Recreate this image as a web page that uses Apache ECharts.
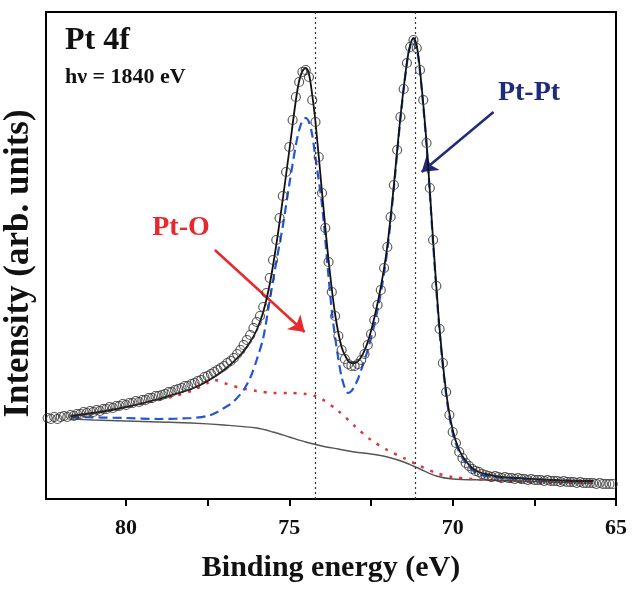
<!DOCTYPE html>
<html><head><meta charset="utf-8">
<script src="https://cdn.jsdelivr.net/npm/echarts@6/dist/echarts.min.js"></script>
<style>html,body{margin:0;padding:0;background:#fff}#c{width:640px;height:597px}</style>
</head><body><div id="c"></div>
<script>
// Measured XPS spectrum (open circles): binding energy (eV) and intensity (arb. units)
const scanBE = [82.4,82.3,82.2,82.1,82.0,81.9,81.8,81.7,81.6,81.5,81.4,81.3,81.2,81.1,81.0,80.9,80.8,80.7,80.6,80.5,
80.4,80.3,80.2,80.1,80.0,79.9,79.8,79.7,79.6,79.5,79.4,79.3,79.2,79.1,79.0,78.9,78.8,78.7,78.6,78.5,
78.4,78.3,78.2,78.1,78.0,77.9,77.8,77.7,77.6,77.5,77.4,77.3,77.2,77.1,77.0,76.9,76.8,76.7,76.6,76.5,
76.4,76.3,76.2,76.1,76.0,75.9,75.8,75.7,75.6,75.5,75.4,75.3,75.2,75.1,75.0,74.9,74.8,74.7,74.6,74.5,
74.4,74.3,74.2,74.1,74.0,73.9,73.8,73.7,73.6,73.5,73.4,73.3,73.2,73.1,73.0,72.9,72.8,72.7,72.6,72.5,
72.4,72.3,72.2,72.1,72.0,71.9,71.8,71.7,71.6,71.5,71.4,71.3,71.2,71.1,71.0,70.9,70.8,70.7,70.6,70.5,
70.4,70.3,70.2,70.1,70.0,69.9,69.8,69.7,69.6,69.5,69.4,69.3,69.2,69.1,69.0,68.9,68.8,68.7,68.6,68.5,
68.4,68.3,68.2,68.1,68.0,67.9,67.8,67.7,67.6,67.5,67.4,67.3,67.2,67.1,67.0,66.9,66.8,66.7,66.6,66.5,
66.4,66.3,66.2,66.1,66.0,65.9,65.8,65.7,65.6,65.5,65.4,65.3,65.2,65.1];
const scanIntensity = [81,80,82,80,82,83,82,84,83,85,85,87,86,88,87,89,88,90,90,92,
91,93,93,95,94,96,96,98,97,99,99,101,101,103,103,104,105,107,107,109,
110,111,113,113,115,116,118,119,122,123,125,127,129,131,133,136,138,141,145,149,
154,159,164,171,177,183,192,206,221,239,259,281,303,327,352,379,402,417,427,429,
422,399,377,342,306,271,237,207,183,163,149,140,135,133,133,135,139,145,154,165,
179,194,209,231,252,282,314,349,382,410,436,452,459,451,429,399,356,311,259,213,
170,136,107,84,67,56,47,41,36,33,30,28,27,25,24,23,22,23,22,21,
22,21,21,20,21,20,20,19,20,19,19,19,18,19,18,18,18,17,18,17,
17,17,16,17,16,16,16,16,15,16,15,15,15,15];

// Total fit envelope (black solid)
const fitBE = [81.7,81.0,80.0,79.0,78.5,78.0,77.5,77.0,76.5,76.2,76.0,75.8,75.6,75.4,75.2,75.0,74.8,74.7,74.6,74.5,
74.4,74.3,74.2,74.0,73.8,73.6,73.4,73.2,73.1,73.0,72.8,72.6,72.4,72.2,72.0,71.8,71.6,71.4,71.3,71.2,
71.1,71.0,70.8,70.6,70.4,70.2,70.0,69.8,69.6,69.4,69.2,69.0,68.5,68.0,67.0,66.0,65.7];
const fitTotal = [83,86,92,100,105,110,118,129,144,157,169,187,215,254,300,349,399,418,428,431,
425,404,377,307,239,185,152,138,136,136,142,157,181,212,253,314,382,437,454,461,
453,429,356,259,170,107,69,49,38,31,27,25,22,21,19,18,18];

// Pt-Pt component (blue dashed)
const blueBE = [81.7,80.0,79.0,78.0,77.5,77.2,77.0,76.8,76.6,76.4,76.2,76.0,75.8,75.6,75.4,75.2,75.0,74.8,74.7,74.6,
74.5,74.4,74.3,74.2,74.0,73.8,73.7,73.6,73.5,73.4,73.3,73.2,73.1,73.0,72.9,72.8,72.6,72.4,72.2,72.0,
71.8,71.6,71.4,71.3,71.2,71.1,71.0,70.8,70.6,70.4,70.2,70.0,69.8,69.6,69.4,69.2,69.0,68.5,68.0,67.0,66.0,65.7];
const bluePtPt = [82,81,80,81,83,87,91,95,101,109,121,139,161,199,237,273,315,354,369,378,
381,377,364,341,294,222,188,162,140,122,111,106,108,113,120,129,149,174,206,249,
311,380,436,453,459,451,427,354,256,167,104,66,47,36,29,25,23,21,20,19,18,18];

// Pt-O component (red dotted)
const redBE = [81.7,81.0,80.0,79.0,78.5,78.0,77.5,77.3,77.0,76.5,76.0,75.5,75.0,74.5,74.2,74.0,73.5,73.0,72.5,72.0,
71.5,71.0,70.5,70.0,69.0,68.0,67.0,66.0,65.7];
const redPtO = [83,86,92,99,103,108,116,119,116,111,108,106,106,105,103,100,88,73,59,49,
41,33,26,22,19,17,16,16,16];

// Background (grey solid)
const bgBE = [81.7,81.0,80.0,79.0,78.0,77.0,76.0,75.5,75.0,74.5,74.0,73.5,73.0,72.5,72.0,71.5,71.0,70.5,70.0,69.0,68.0,67.0,66.0,65.7];
const bgValues = [80,79,78,77,76,74,71,67,62,57,53,50,47,45,42,37,30,23,20,19,18,17,16,16];

const xTickLabels = [65,70,75,80];
const markerEnergies = [74.22, 71.16];
const ptOArrow = [[77.28,249],[74.53,167]];
const ptPtArrow = [[68.75,387],[70.95,327]];

const zip = (xs, ys) => xs.map((x, i) => [x, ys[i]]);
const FONT = '"Liberation Serif", "Times New Roman", serif';

const chart = echarts.init(document.getElementById('c'), null, {renderer: 'canvas'});
chart.setOption({
  animation: false,
  backgroundColor: '#fff',
  grid: {left: 46, right: 24, top: 12, bottom: 98, containLabel: false, outerBoundsMode: 'none',
    show: true, borderColor: '#000', borderWidth: 2, backgroundColor: 'transparent'},
  xAxis: {
    type: 'value', inverse: true, min: 65, max: 82.45, interval: 2.5,
    axisLine: {show: true, onZero: false, lineStyle: {color: '#000', width: 2}},
    axisTick: {show: true, length: 7, lineStyle: {color: '#000', width: 2}},
    axisLabel: {margin: 18, fontFamily: FONT, fontWeight: 'bold', fontSize: 22, color: '#111', showMaxLabel: false,
      formatter: v => xTickLabels.includes(v) ? String(v) : ''},
    splitLine: {show: false},
    name: 'Binding energy (eV)', nameLocation: 'middle', nameGap: 54,
    nameTextStyle: {fontFamily: FONT, fontWeight: 'bold', fontSize: 30, color: '#111'}
  },
  yAxis: {
    type: 'value', min: 0, max: 487,
    axisLine: {show: true, lineStyle: {color: '#000', width: 2}},
    axisTick: {show: false}, axisLabel: {show: false}, splitLine: {show: false},
    name: 'Intensity (arb. units)', nameLocation: 'middle', nameGap: 10, nameRotate: 90,
    nameTextStyle: {fontFamily: FONT, fontWeight: 'bold', fontSize: 35, color: '#111', padding: [0, 16, 0, 0]}
  },
  graphic: [
    {type: 'text', x: 65, y: 41, style: {text: 'Pt 4f', font: 'bold 32px ' + FONT, fill: '#111', verticalAlign: 'middle'}},
    {type: 'text', x: 65, y: 77, style: {text: 'h\u03bd = 1840 eV', font: 'bold 22px ' + FONT, fill: '#111', verticalAlign: 'middle'}},
    {type: 'text', x: 181, y: 228, style: {text: 'Pt-O', font: 'bold 28px ' + FONT, fill: '#e8282b', align: 'center', verticalAlign: 'middle'}},
    {type: 'text', x: 529, y: 93, style: {text: 'Pt-Pt', font: 'bold 28px ' + FONT, fill: '#1f2a7c', align: 'center', verticalAlign: 'middle'}}
  ],
  series: [
    {type: 'line', name: 'Background', data: zip(bgBE, bgValues), showSymbol: false, smooth: 0.3,
      lineStyle: {color: '#555', width: 1.4}, z: 2,
      markLine: {silent: true, symbol: ['none', 'none'], label: {show: false},
        lineStyle: {color: '#333', type: [2, 3], width: 1.2},
        data: markerEnergies.map(e => ({xAxis: e}))}},
    {type: 'line', name: 'Pt-O', data: zip(redBE, redPtO), showSymbol: false, smooth: 0.3,
      lineStyle: {color: '#e0343a', width: 2.5, type: [3, 7]}, z: 3},
    {type: 'line', name: 'Pt-Pt', data: zip(blueBE, bluePtPt), showSymbol: false, smooth: 0.3,
      lineStyle: {color: '#2456d6', width: 2.2, type: [9, 5]}, z: 4},
    {type: 'line', name: 'Fit', data: zip(fitBE, fitTotal), showSymbol: false, smooth: 0.3,
      lineStyle: {color: '#111', width: 1.8}, z: 5},
    {type: 'scatter', name: 'Data', data: zip(scanBE, scanIntensity), symbol: 'circle', symbolSize: 9,
      itemStyle: {color: 'rgba(0,0,0,0)', borderColor: '#333', borderWidth: 1.2}, z: 6},
    {type: 'line', name: 'Arrows', data: [], z: 7,
      markLine: {silent: true, symbol: ['none', 'arrow'], symbolSize: 15, label: {show: false},
        data: [
          [{coord: ptOArrow[0], lineStyle: {color: '#e8282b', width: 2.5, type: 'solid'}, itemStyle: {color: '#e8282b'}},
           {coord: ptOArrow[1]}],
          [{coord: ptPtArrow[0], lineStyle: {color: '#1f2a7c', width: 2.5, type: 'solid'}, itemStyle: {color: '#1f2a7c'}},
           {coord: ptPtArrow[1]}]
        ]}}
  ]
});
</script></body></html>
